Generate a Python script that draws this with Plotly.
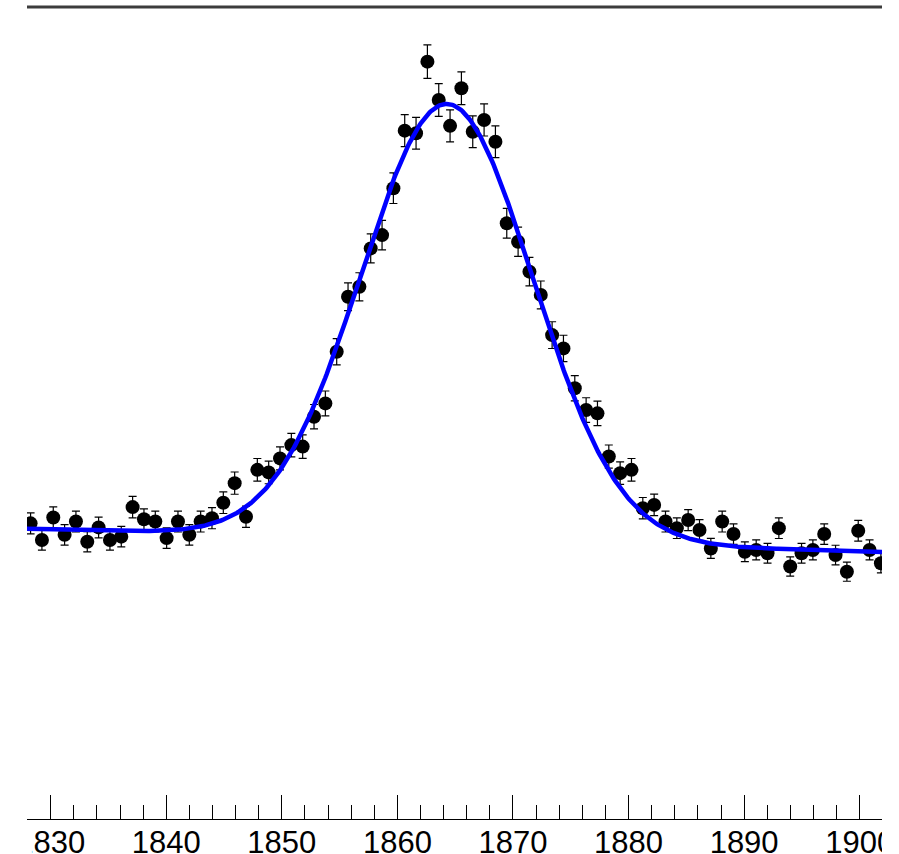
import numpy as np
import plotly.graph_objects as go

# ---- data ----
bin_first_center = 1828.26
bin_width = 0.981
counts = [801, 756, 817, 770, 806, 751, 790, 756, 765, 845,
          812, 806, 761, 806, 770, 806, 815, 857, 910, 819,
          946, 939, 977, 1013, 1009, 1090, 1126, 1266, 1415, 1442,
          1546, 1582, 1709, 1865, 1858, 2052, 1948, 1878, 1980, 1862,
          1894, 1835, 1614, 1564, 1483, 1420, 1311, 1275, 1167, 1108,
          1099, 982, 937, 946, 842, 851, 806, 788, 810, 783,
          733, 806, 772, 724, 729, 720, 788, 684, 720, 729,
          772, 715, 670, 781, 729, 693]
x_centers = [bin_first_center + i * bin_width for i in range(len(counts))]
errors = [float(np.sqrt(c)) for c in counts]

# fit parameters (gaussian + linear background)
fit_amp = 1182.0
fit_mean = 1864.3
fit_sigma = 7.42
bg_ref_x = 1828.2
bg_ref_y = 786.0
bg_slope = -0.847

x_range = [1827.95, 1901.93]
y_range = [0, 2200]
tick_start = 1830
tick_step = 10
minor_step = 2

xf = np.linspace(x_range[0], x_range[1], 600)
yf = fit_amp * np.exp(-0.5 * ((xf - fit_mean) / fit_sigma) ** 2) + bg_ref_y + bg_slope * (xf - bg_ref_x)

fig = go.Figure()
fig.add_trace(go.Scatter(
    x=x_centers, y=counts, mode="markers",
    marker=dict(color="black", size=14),
    error_y=dict(type="data", array=errors, color="black", thickness=1.2, width=4),
    showlegend=False,
))
fig.add_trace(go.Scatter(
    x=xf, y=yf, mode="lines",
    line=dict(color="#0000ff", width=4.5),
    showlegend=False,
))

fig.update_layout(
    width=899, height=854,
    margin=dict(l=27, r=17, t=7, b=35, autoexpand=False),
    paper_bgcolor="white", plot_bgcolor="white",
    font=dict(family="Liberation Sans, Arial, sans-serif", color="black"),
    xaxis=dict(
        range=x_range, showgrid=False, zeroline=False, automargin=False,
        showline=True, linecolor="black", linewidth=1.3,
        ticks="inside", ticklen=24, tickwidth=1.2, tickcolor="black",
        tick0=tick_start, dtick=tick_step,
        minor=dict(ticks="inside", ticklen=14, tickwidth=1.2, tickcolor="black", dtick=minor_step, showgrid=False),
        tickfont=dict(size=31, color="black"),
        ticklabelstandoff=-4,
    ),
    yaxis=dict(range=y_range, visible=False, showgrid=False, zeroline=False, automargin=False),
    shapes=[
        dict(type="line", xref="paper", yref="paper", x0=0, x1=1, y0=1, y1=1,
             line=dict(color="#3c3c3c", width=3), layer="above"),
        dict(type="rect", xref="paper", yref="paper", x0=-0.05, x1=0.0058, y0=-0.06, y1=-0.004,
             fillcolor="white", line=dict(width=0), layer="above"),
        dict(type="rect", xref="paper", yref="paper", x0=1.0, x1=1.05, y0=-0.06, y1=-0.004,
             fillcolor="white", line=dict(width=0), layer="above"),
    ],
)

fig.write_html("out.html", config={"displayModeBar": False},
               post_script="document.body.style.margin='0';")
